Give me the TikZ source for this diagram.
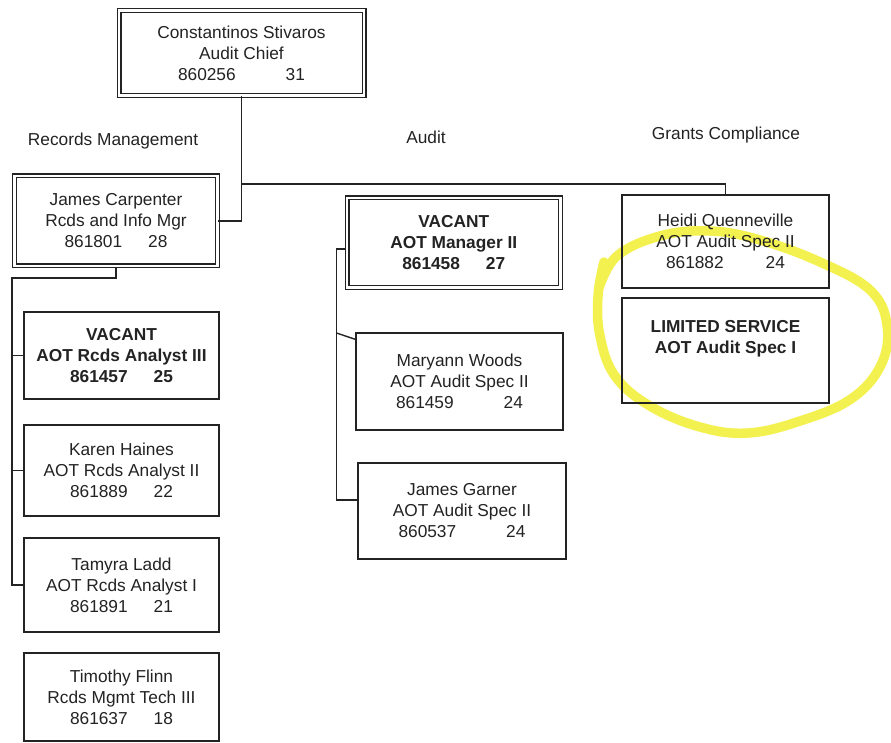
\documentclass[tikz,border=0pt]{standalone}
\usepackage{fontspec}
\setmainfont{Liberation Sans}
\definecolor{inkc}{RGB}{35,35,35}
\definecolor{hilite}{RGB}{242,240,60}
\begin{document}
\begin{tikzpicture}[x=1pt,y=-1pt,
  every node/.style={font=\fontsize{17.3}{21}\selectfont, text=inkc},
  posbox/.style={draw=inkc, line width=1.4pt, align=center, inner sep=0pt},
  dblbox/.style={posbox, double, double distance=2.6pt, line width=1.2pt},
  conn/.style={draw=inkc, line width=1.4pt},
  head/.style={align=center, inner sep=0pt}]
\useasboundingbox (0,0) rectangle (891,743);
\fill[white] (0,0) rectangle (891,743);

% highlighter loop
\draw[hilite, line width=9.5pt, line cap=round, line join=round, opacity=0.9]
  plot[smooth, tension=0.65] coordinates {(599,288) (617,256) (660,236) (710,231) (760,240) (820,262) (870,290) (887,325) (881,365) (851,399) (800,421) (748,433) (700,427) (650,406) (615,376) (600,336) (598,296) (604,262)};

% headings
\node[head] (hrm) at (113,141) {Records Management};
\node[head] (hau) at (426,137) {Audit};
\node[head] (hgc) at (726,135) {Grants Compliance};

% boxes
\node[dblbox, minimum width=245, minimum height=85.5] (chief) at (241.5,53)
  {Constantinos Stivaros\\Audit Chief\\860256\hspace{50pt}31};
\node[dblbox, minimum width=203, minimum height=90] (carp) at (116,221)
  {James Carpenter\\Rcds and Info Mgr\\861801\hspace{26pt}28};
\node[dblbox, minimum width=213.5, minimum height=89.5] (vm) at (453.75,242.75)
  {\bfseries VACANT\\\bfseries AOT Manager II\\\bfseries 861458\hspace{26pt}27};

\node[posbox, minimum width=195, minimum height=87] (vr) at (121.5,355.5)
  {\bfseries VACANT\\\bfseries AOT Rcds Analyst III\\\bfseries 861457\hspace{26pt}25};
\node[posbox, minimum width=195, minimum height=91] (karen) at (121.5,470.5)
  {Karen Haines\\AOT Rcds Analyst II\\861889\hspace{26pt}22};
\node[posbox, minimum width=195, minimum height=94] (tamyra) at (121.5,585)
  {Tamyra Ladd\\AOT Rcds Analyst I\\861891\hspace{26pt}21};
\node[posbox, minimum width=195, minimum height=88] (tim) at (121.5,697)
  {Timothy Flinn\\Rcds Mgmt Tech III\\861637\hspace{26pt}18};

\node[posbox, minimum width=207, minimum height=97] (mw) at (459.5,381.5)
  {Maryann Woods\\AOT Audit Spec II\\861459\hspace{50pt}24};
\node[posbox, minimum width=208, minimum height=96] (jg) at (462,511)
  {James Garner\\AOT Audit Spec II\\860537\hspace{50pt}24};

\node[posbox, minimum width=207, minimum height=93] (heidi) at (725.5,241.5)
  {Heidi Quenneville\\AOT Audit Spec II\\861882\hspace{42pt}24};
\node[posbox, minimum width=207, minimum height=105] (ls) at (725.5,350.5)
  {\bfseries LIMITED SERVICE\\\bfseries AOT Audit Spec I\\\strut};

% junction coordinates
\coordinate (j1) at (241.5,184);
\coordinate (rl) at (12,278);
\coordinate (am) at (336.5,249);
\coordinate (am2) at (336.5,333);
\coordinate (am3) at (336.5,500);

% connectors
\draw[conn] (chief.south) -- (j1) -| (heidi.north);
\draw[conn] (j1) |- (carp.east);
\draw[conn] (carp.south) |- (rl) -- (rl |- tamyra.west) -- (tamyra.west);
\draw[conn] (rl |- vr.west) -- (vr.west);
\draw[conn] (rl |- karen.west) -- (karen.west);
\draw[conn] (am -| vm.west) -- (am) -- (am3) -- (am3 -| jg.west);
\draw[conn] (am2) -- ([yshift=-7pt]mw.north west);
\end{tikzpicture}
\end{document}
